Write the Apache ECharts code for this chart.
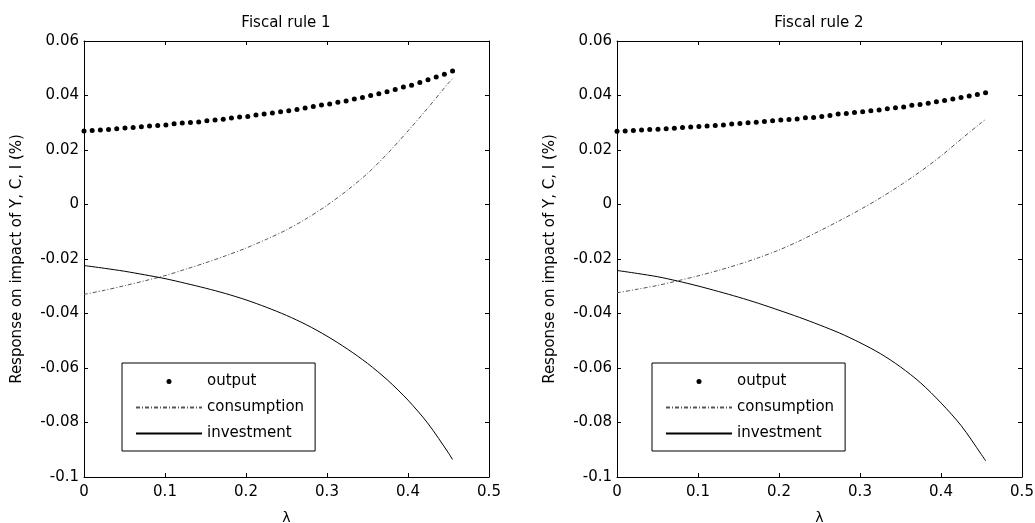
<!DOCTYPE html>
<html>
<head>
<meta charset="utf-8">
<script src="https://cdn.jsdelivr.net/npm/echarts@6/dist/echarts.min.js"></script>
<style>
html, body { margin: 0; padding: 0; background: #fff; }
#main { width: 1035px; height: 523px; }
</style>
</head>
<body>
<div id="main"></div>
<script>
// lambda grid of the dotted output series
var lambdaDots = [0, 0.0101, 0.0202, 0.0303, 0.0404, 0.0506, 0.0607, 0.0708, 0.0809, 0.0910,
  0.1011, 0.1112, 0.1213, 0.1314, 0.1416, 0.1517, 0.1618, 0.1719, 0.1820, 0.1921,
  0.2022, 0.2123, 0.2224, 0.2326, 0.2427, 0.2528, 0.2629, 0.2730, 0.2831, 0.2932,
  0.3033, 0.3134, 0.3236, 0.3337, 0.3438, 0.3539, 0.3640, 0.3741, 0.3842, 0.3943,
  0.4044, 0.4146, 0.4247, 0.4348, 0.4449, 0.455];

var outputRule1 = [0.0270, 0.0272, 0.0273, 0.0275, 0.0278, 0.0281, 0.0283, 0.0285, 0.0288, 0.0290,
  0.0292, 0.0296, 0.0299, 0.0301, 0.0303, 0.0307, 0.0310, 0.0313, 0.0317, 0.0321,
  0.0323, 0.0328, 0.0332, 0.0336, 0.0340, 0.0344, 0.0349, 0.0354, 0.0360, 0.0365,
  0.0369, 0.0375, 0.0380, 0.0387, 0.0393, 0.0400, 0.0406, 0.0414, 0.0422, 0.0431,
  0.0438, 0.0448, 0.0458, 0.0468, 0.0478, 0.0490];

var outputRule2 = [0.0269, 0.0270, 0.0272, 0.0273, 0.0275, 0.0276, 0.0278, 0.0280, 0.0283, 0.0284,
  0.0286, 0.0288, 0.0290, 0.0292, 0.0295, 0.0297, 0.0300, 0.0302, 0.0305, 0.0307,
  0.0310, 0.0312, 0.0314, 0.0318, 0.0319, 0.0323, 0.0327, 0.0332, 0.0334, 0.0338,
  0.0340, 0.0344, 0.0347, 0.0351, 0.0355, 0.0358, 0.0364, 0.0367, 0.0372, 0.0377,
  0.0382, 0.0387, 0.0393, 0.0398, 0.0404, 0.0410];

// lambda points for the two line series
var lambdaLine = [0, 0.025, 0.05, 0.075, 0.1, 0.125, 0.15, 0.175, 0.2, 0.225,
  0.25, 0.275, 0.3, 0.325, 0.35, 0.375, 0.4, 0.425, 0.45, 0.455];

var consRule1 = [-0.0330, -0.0315, -0.0298, -0.0280, -0.0261, -0.0238, -0.0214, -0.0188, -0.0160, -0.0128,
  -0.0093, -0.0051, -0.0003, 0.0052, 0.0114, 0.0188, 0.0270, 0.0356, 0.0446, 0.0461];
var invRule1 = [-0.0224, -0.0234, -0.0245, -0.0258, -0.0272, -0.0289, -0.0307, -0.0327, -0.0350, -0.0377,
  -0.0407, -0.0442, -0.0483, -0.0530, -0.0583, -0.0645, -0.0718, -0.0805, -0.0912, -0.0936];

var consRule2 = [-0.0324, -0.0311, -0.0297, -0.0280, -0.0262, -0.0242, -0.0220, -0.0195, -0.0167, -0.0134,
  -0.0097, -0.0059, -0.0019, 0.0024, 0.0071, 0.0122, 0.0178, 0.0240, 0.0301, 0.0312];
var invRule2 = [-0.0242, -0.0253, -0.0265, -0.0281, -0.0299, -0.0319, -0.0340, -0.0363, -0.0388, -0.0414,
  -0.0442, -0.0472, -0.0507, -0.0547, -0.0596, -0.0655, -0.0728, -0.0812, -0.0918, -0.0940];

var panelTitles = ['Fiscal rule 1', 'Fiscal rule 2'];
var yName = 'Response on impact of Y, C, I (%)';
var xName = 'λ';

var font = 'DejaVu Sans';

function pairs(xs, ys) {
  return xs.map(function (x, i) { return [x, ys[i]]; });
}

function bottomAxis(grid) {
  return {
    type: 'value', gridIndex: grid, position: 'bottom',
    min: 0, max: 0.5, interval: 0.1,
    name: xName, nameLocation: 'middle', nameGap: 34,
    nameTextStyle: { fontFamily: font, fontSize: 14, color: '#000' },
    axisLine: { onZero: false, lineStyle: { color: '#000', width: 1 } },
    axisTick: { inside: true, length: 4, lineStyle: { color: '#000' } },
    axisLabel: { margin: 8, fontFamily: font, fontSize: 15, color: '#000' },
    splitLine: { show: false }
  };
}
function topAxis(grid) {
  return {
    type: 'value', gridIndex: grid, position: 'top',
    min: 0, max: 0.5, interval: 0.1,
    axisLine: { onZero: false, lineStyle: { color: '#000', width: 1 } },
    axisTick: { inside: true, length: 4, lineStyle: { color: '#000' } },
    axisLabel: { show: false },
    splitLine: { show: false }
  };
}
function leftAxis(grid) {
  return {
    type: 'value', gridIndex: grid, position: 'left',
    min: -0.1, max: 0.06, interval: 0.02,
    name: yName, nameLocation: 'middle', nameGap: 59,
    nameTextStyle: { fontFamily: font, fontSize: 15, color: '#000' },
    axisLine: { show: true, onZero: false, lineStyle: { color: '#000', width: 1 } },
    axisTick: { show: true, inside: true, length: 4, lineStyle: { color: '#000' } },
    axisLabel: { margin: 5, fontFamily: font, fontSize: 15, color: '#000' },
    splitLine: { show: false }
  };
}
function rightAxis(grid) {
  return {
    type: 'value', gridIndex: grid, position: 'right',
    min: -0.1, max: 0.06, interval: 0.02,
    axisLine: { show: true, onZero: false, lineStyle: { color: '#000', width: 1 } },
    axisTick: { show: true, inside: true, length: 4, lineStyle: { color: '#000' } },
    axisLabel: { show: false },
    splitLine: { show: false }
  };
}

// the line entries get no centre dot in the legend
var hiddenDot = { color: 'rgba(0,0,0,0)', borderWidth: 0, opacity: 0 };

function legendAt(left) {
  return {
    orient: 'vertical', left: left, top: 363,
    data: [
      { name: 'output', icon: 'circle' },
      { name: 'consumption', itemStyle: hiddenDot },
      { name: 'investment', itemStyle: hiddenDot }
    ],
    itemWidth: 66, itemHeight: 5, itemGap: 11,
    padding: [11, 11, 10, 13],
    borderColor: '#000', borderWidth: 1, borderRadius: 0,
    backgroundColor: '#fff',
    selectedMode: false,
    textStyle: { fontFamily: font, fontSize: 15, color: '#000' }
  };
}

function panelSeries(axis, out, cons, inv) {
  return [
    {
      name: 'output', type: 'scatter', xAxisIndex: axis, yAxisIndex: axis,
      symbol: 'circle', symbolSize: 5,
      itemStyle: { color: '#000', opacity: 1 },
      data: pairs(lambdaDots, out)
    },
    {
      name: 'consumption', type: 'line', xAxisIndex: axis, yAxisIndex: axis,
      symbol: 'none', smooth: 0.3,
      lineStyle: { color: '#555', width: 1, type: [4, 2, 1, 2] },
      itemStyle: { color: '#555' },
      data: pairs(lambdaLine, cons)
    },
    {
      name: 'investment', type: 'line', xAxisIndex: axis, yAxisIndex: axis,
      symbol: 'none', smooth: 0.3,
      lineStyle: { color: '#000', width: 1 },
      itemStyle: { color: '#000' },
      data: pairs(lambdaLine, inv)
    }
  ];
}

var chart = echarts.init(document.getElementById('main'));

var option = {
  backgroundColor: '#fff',
  animation: false,
  textStyle: { fontFamily: font },
  title: [
    { text: panelTitles[0], left: 286, top: 16, padding: 0, textAlign: 'center',
      textStyle: { fontFamily: font, fontSize: 15, fontWeight: 'normal', color: '#000' } },
    { text: panelTitles[1], left: 819, top: 16, padding: 0, textAlign: 'center',
      textStyle: { fontFamily: font, fontSize: 15, fontWeight: 'normal', color: '#000' } }
  ],
  legend: [legendAt(122), legendAt(652)],
  grid: [
    { left: 84, top: 41, width: 405, height: 436, outerBoundsMode: 'none' },
    { left: 617, top: 41, width: 405, height: 436, outerBoundsMode: 'none' }
  ],
  xAxis: [bottomAxis(0), topAxis(0), bottomAxis(1), topAxis(1)],
  yAxis: [leftAxis(0), rightAxis(0), leftAxis(1), rightAxis(1)],
  series: panelSeries(0, outputRule1, consRule1, invRule1)
    .concat(panelSeries(2, outputRule2, consRule2, invRule2))
};

chart.setOption(option);
</script>
</body>
</html>
